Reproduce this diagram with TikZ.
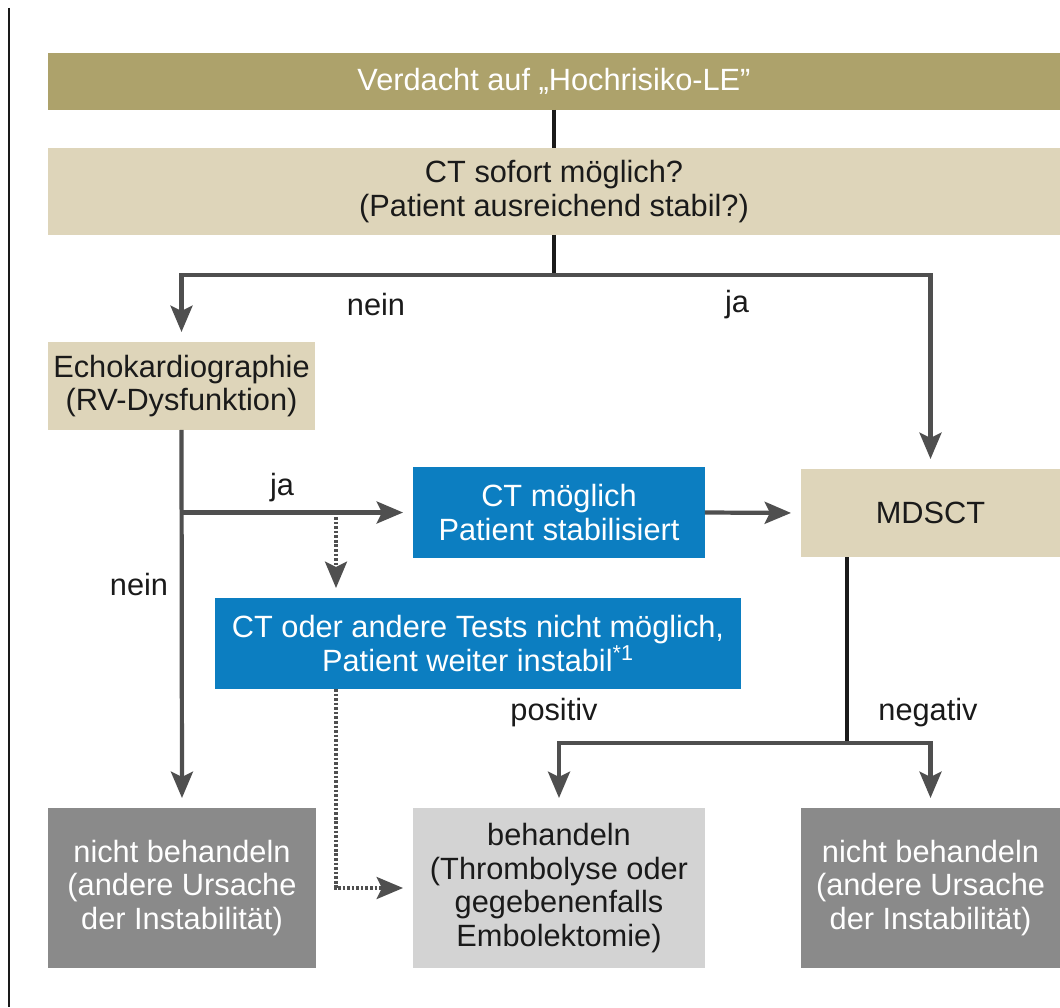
\documentclass[tikz,border=0pt]{standalone}
\usepackage{fontspec}
\setmainfont{Liberation Sans}
\usepackage{tikz}
\usetikzlibrary{arrows.meta,positioning}
\definecolor{clOlive}{HTML}{ADA26B}
\definecolor{clBeige}{HTML}{DED5BA}
\definecolor{clBlue}{HTML}{0C7EC1}
\definecolor{clDark}{HTML}{8A8A8A}
\definecolor{clLight}{HTML}{D3D3D3}
\definecolor{clLine}{HTML}{4F4F4F}
\definecolor{clText}{HTML}{1A1A1A}

\begin{document}
\begin{tikzpicture}[x=0.02cm,y=-0.02cm,>={Stealth[length=15pt,width=12.5pt,inset=3pt]},
                    line width=2.4pt,draw=clLine]
  \tikzstyle{every node}=[font=\fontsize{17.5}{19}\selectfont,text=clText]
  \tikzstyle{box}=[inner sep=0pt,outer sep=0pt,align=center]
  \tikzstyle{beigebox}=[box,fill=clBeige]
  \tikzstyle{bluebox}=[box,fill=clBlue,text=white]
  \tikzstyle{darkbox}=[box,fill=clDark,text=white,minimum height=3.2cm]
  \tikzstyle{arr}=[->,shorten >=0.2cm]
  \tikzstyle{black line}=[draw=clText]
  \tikzstyle{dotline}=[line width=2pt,dash pattern=on 1.5pt off 1.1pt]

  \useasboundingbox (0,0) rectangle (1060,1007);
  \draw[line width=1.2pt,draw=clText] (9,8) -- (9,1007);

  \node[box,fill=clOlive,text=white,minimum width=20.24cm,minimum height=1.14cm]
        (susp)  at (554,81.5)  {Verdacht auf „Hochrisiko-LE”};
  \node[beigebox,minimum width=20.24cm,minimum height=1.74cm]
        (ctq)   at (554,191.5) {CT sofort möglich?\\(Patient ausreichend stabil?)};
  \node[beigebox,minimum width=5.34cm,minimum height=1.76cm]
        (echo)  at (181.5,386) {Echokardiographie\\(RV-Dysfunktion)};
  \node[bluebox,minimum width=5.84cm,minimum height=1.82cm]
        (ctok)  at (559,512.5) {CT möglich\\Patient stabilisiert};
  \node[beigebox,minimum width=5.18cm,minimum height=1.76cm]
        (mdsct) at (930.5,513) {MDSCT};
  \node[bluebox,minimum width=10.52cm,minimum height=1.82cm]
        (ctno)  at (478,643.5) {CT oder andere Tests nicht möglich,\\Patient weiter instabil\textsuperscript{*1}};
  \node[darkbox,minimum width=5.36cm]
        (nonl)  at (182,888)   {nicht behandeln\\(andere Ursache\\der Instabilität)};
  \node[box,fill=clLight,minimum width=5.84cm,minimum height=3.2cm]
        (treat) at (559,888)   {behandeln\\(Thrombolyse oder\\gegebenenfalls\\Embolektomie)};
  \node[darkbox,minimum width=5.18cm]
        (nonr)  at (930.5,888) {nicht behandeln\\(andere Ursache\\der Instabilität)};

  \node (lnein1) at (376,305) {nein};
  \node (lja1)   at (737,305) {ja};
  \node (lja2)   at (282,488) {ja};
  \node (lnein2) at (139,585) {nein};
  \node (lpos)   at (554,713) {positiv};
  \node (lneg)   at (928,713) {negativ};

  \coordinate (split) at (554,275);
  \coordinate (jy)    at (181.5,512.5);
  \coordinate (jd)    at (336,512.5);
  \coordinate (jm)    at (847,743);

  \draw[black line] (susp.south) -- (ctq.north);
  \draw[black line] (ctq.south) -- (split);
  \draw[arr] (split) -| (echo.north);
  \draw[arr] (split) -| (mdsct.north);

  \draw[arr] (echo.south) -- (nonl.north);
  \draw[arr] (jy) -- (ctok.west);
  \draw[arr] (ctok.east) -- (mdsct.west);
  \draw[arr,dotline] (jd) -- (jd |- ctno.north);
  \draw[arr,dotline] (jd |- ctno.south) |- (treat.west);

  \draw[black line] (jm |- mdsct.south) -- (jm);
  \draw[arr] (jm) -| (treat.north);
  \draw[arr] (jm) -| (nonr.north);
\end{tikzpicture}
\end{document}
